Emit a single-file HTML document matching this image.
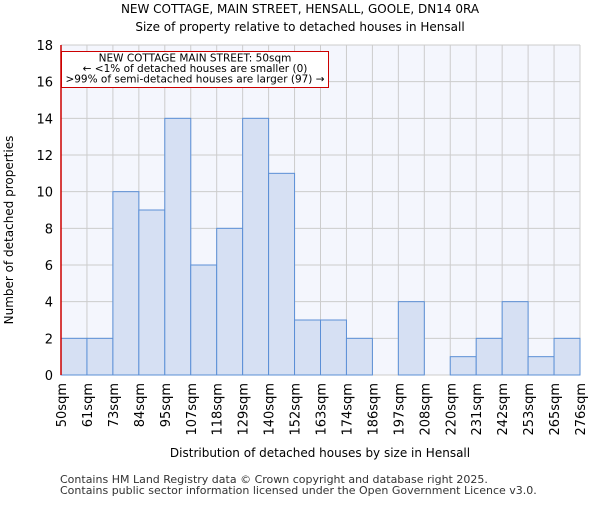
<!DOCTYPE html>
<html><head><meta charset="utf-8"><style>
body{margin:0;background:#fff;font-family:"Liberation Sans","DejaVu Sans",sans-serif}
</style></head><body>
<svg width="600" height="500" viewBox="0 0 600 500" style="font-family:'DejaVu Sans','Liberation Sans',sans-serif">
<text x="300" y="13" text-anchor="middle" font-size="12">NEW COTTAGE, MAIN STREET, HENSALL, GOOLE, DN14 0RA</text>
<text x="300" y="31" text-anchor="middle" font-size="12">Size of property relative to detached houses in Hensall</text>
<rect x="61" y="45" width="519" height="330" fill="#f4f6fd"/>
<g id="grid"></g>
<g id="bars"></g>
<g id="axes"></g>
<line x1="61" y1="45" x2="61" y2="375" stroke="#cc0000" stroke-width="1.5"/>
<rect x="61.5" y="51.5" width="267" height="36" fill="#fff" stroke="#cc0000"/>
<text x="195" y="61.5" text-anchor="middle" font-size="10.5">NEW COTTAGE MAIN STREET: 50sqm</text>
<text x="195" y="72" text-anchor="middle" font-size="10.5">← &lt;1% of detached houses are smaller (0)</text>
<text x="195" y="82.5" text-anchor="middle" font-size="10.5">&gt;99% of semi-detached houses are larger (97) →</text>
<text x="13" y="230" transform="rotate(-90 13 230)" text-anchor="middle" font-size="12">Number of detached properties</text>
<text x="320" y="457" text-anchor="middle" font-size="12">Distribution of detached houses by size in Hensall</text>
<text x="60" y="483" font-size="11" fill="#333">Contains HM Land Registry data © Crown copyright and database right 2025.</text>
<text x="60" y="494" font-size="11" fill="#333">Contains public sector information licensed under the Open Government Licence v3.0.</text>
</svg>
<script>
const categories=["50sqm","61sqm","73sqm","84sqm","95sqm","107sqm","118sqm","129sqm","140sqm","152sqm","163sqm","174sqm","186sqm","197sqm","208sqm","220sqm","231sqm","242sqm","253sqm","265sqm","276sqm"];
const counts=[2,2,10,9,14,6,8,14,11,3,3,2,0,4,0,1,2,4,1,2];
const yTicks=[0,2,4,6,8,10,12,14,16,18];
const NS="http://www.w3.org/2000/svg";
const x0=61,x1=580,yTop=45,yBot=375,yMax=18;
const bw=(x1-x0)/counts.length;
const xs=i=>x0+i*bw;
const ys=v=>yBot-v/yMax*(yBot-yTop);
function mk(tag,attrs,parent){const e=document.createElementNS(NS,tag);for(const k in attrs)e.setAttribute(k,attrs[k]);document.getElementById(parent).appendChild(e);return e;}
yTicks.forEach(t=>{
 const g=mk('line',{x1:x0,x2:x1,y1:ys(t),y2:ys(t),stroke:'#cccccc'},'grid');
 
 
 const l=mk('text',{x:x0-8,y:ys(t)+5,'text-anchor':'end','font-size':'13'},'axes');
 l.textContent=t;
 
 
});
categories.forEach((c,i)=>{
 const g=mk('line',{x1:xs(i),x2:xs(i),y1:yTop,y2:yBot,stroke:'#cccccc'},'grid');
 
 
 const tx=xs(i)+5,ty=yBot+8;
 const l=mk('text',{x:tx,y:ty,'text-anchor':'end','font-size':'13',transform:`rotate(-90 ${tx} ${ty})`},'axes');
 l.textContent=c;
 
 
});
counts.forEach((v,i)=>{
 if(v<=0)return;
 const r=mk('rect',{x:xs(i),y:ys(v),width:bw,height:yBot-ys(v),fill:'#d6e0f3',stroke:'#5b8fd6','stroke-width':'1'},'bars');
 
 
});
</script>
</body></html>
